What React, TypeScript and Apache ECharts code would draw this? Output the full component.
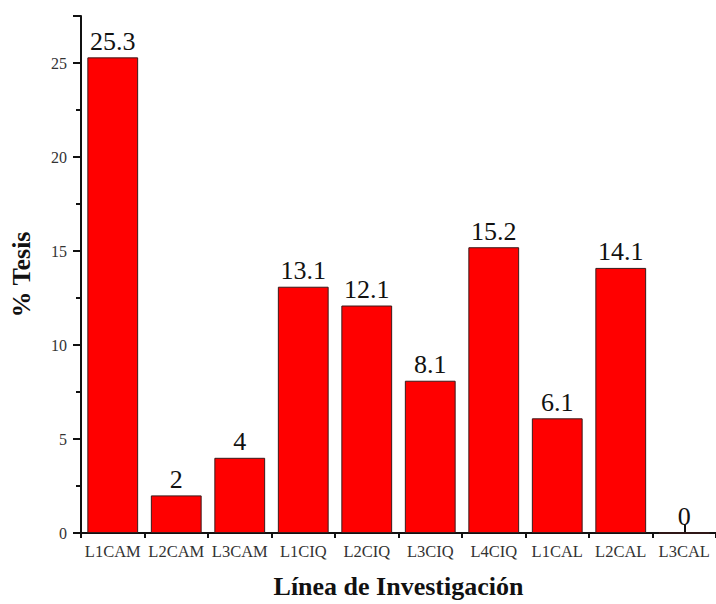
import React, { useEffect, useRef } from "react";
import * as echarts from "echarts";

const categories = ["L1CAM", "L2CAM", "L3CAM", "L1CIQ", "L2CIQ", "L3CIQ", "L4CIQ", "L1CAL", "L2CAL", "L3CAL"];
const values = [25.3, 2, 4, 13.1, 12.1, 8.1, 15.2, 6.1, 14.1, 0];
const yTitle = "% Tesis";
const xTitle = "Línea de Investigación";

const serif = "'Liberation Serif', 'Times New Roman', serif";

export default function App() {
  const ref = useRef<HTMLDivElement>(null);
  useEffect(() => {
    document.body.style.margin = "0";
    const chart = echarts.init(ref.current!, null, { renderer: "svg" });
    chart.setOption({
      animation: false,
      backgroundColor: "#ffffff",
      grid: { left: 76, top: 16, width: 643, height: 520, containLabel: false },
      xAxis: [
        {
          type: "category",
          data: categories,
          axisLine: { lineStyle: { color: "#111", width: 2 } },
          axisTick: { show: true, alignWithLabel: false, length: 5, lineStyle: { color: "#111", width: 2 } },
          axisLabel: { interval: 0, color: "#333", fontFamily: serif, fontSize: 16.5, margin: 10 },
          name: xTitle,
          nameLocation: "middle",
          nameGap: 40,
          nameTextStyle: { fontFamily: serif, fontSize: 26, fontWeight: "bold", color: "#111" },
        },
        {
          type: "category",
          data: categories,
          position: "bottom",
          axisLine: { show: false },
          axisTick: { show: true, alignWithLabel: true, inside: true, length: 8, lineStyle: { color: "#111", width: 2 } },
          axisLabel: { show: false },
        },
      ],
      yAxis: {
        type: "value",
        min: 0,
        max: 27.5,
        interval: 5,
        splitLine: { show: false },
        axisLine: { show: true, lineStyle: { color: "#111", width: 2 } },
        axisTick: { show: true, length: 8, lineStyle: { color: "#111", width: 2 } },
        minorTick: { show: true, splitNumber: 2, length: 5, lineStyle: { color: "#111", width: 2 } },
        axisLabel: {
          color: "#333",
          fontFamily: serif,
          fontSize: 16,
          margin: 14,
          formatter: (v: number) => (v % 5 === 0 && v <= 25 ? String(v) : ""),
        },
        name: yTitle,
        nameLocation: "middle",
        nameGap: 47,
        nameTextStyle: { fontFamily: serif, fontSize: 26, fontWeight: "bold", color: "#111" },
      },
      series: [
        {
          type: "bar",
          data: values,
          barCategoryGap: "20%",
          itemStyle: { color: "#ff0000", borderColor: "#3a1a1a", borderWidth: 1 },
          label: {
            show: true,
            position: "top",
            distance: 3,
            color: "#111",
            fontFamily: serif,
            fontSize: 26,
          },
        },
      ],
    });
    return () => chart.dispose();
  }, []);
  return <div ref={ref} style={{ width: 716, height: 604 }} />;
}
